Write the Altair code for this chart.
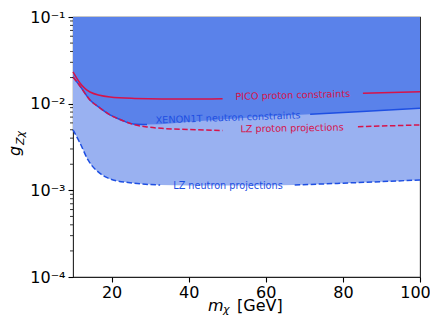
import altair as alt
import pandas as pd

# ---- data ----
pico_x = [10, 11.8, 14.4, 19.6, 26, 33, 40, 48.8, 60, 72, 85.2, 100]
pico_g = [0.0232, 0.0173, 0.01364, 0.01194, 0.01148, 0.01133, 0.01133, 0.01143, 0.0121, 0.0126, 0.01318, 0.01376]
pico_gap = (48.8, 85.2)

lzp_x = [10, 11.8, 14.4, 17, 19.6, 22.5, 25.6, 29.2, 33, 40, 48.8, 60, 72, 83.9, 100]
lzp_g = [0.0203, 0.016, 0.01104, 0.00891, 0.00741, 0.00649, 0.00576, 0.00539, 0.00519, 0.00504, 0.00489, 0.00504, 0.00525, 0.00543, 0.00568]
lzp_gap = (48.8, 83.9)

xen_x = [10, 11.8, 14.4, 17, 19.6, 22.5, 25.6, 29.2, 43, 56, 71.5, 85, 100]
xen_g = [0.0203, 0.016, 0.01104, 0.00891, 0.00741, 0.00649, 0.00583, 0.00575, 0.00632, 0.00693, 0.00755, 0.00813, 0.00885]
xen_gap = (29.2, 71.5)

lzn_x = [10, 11.8, 13.9, 17, 19, 21.3, 24.3, 27.4, 32.6, 40, 50, 60, 67.5, 80, 90, 100]
lzn_g = [0.00497, 0.00352, 0.00224, 0.00157, 0.00139, 0.00129, 0.00123, 0.00119, 0.00115, 0.00114, 0.00114, 0.00114, 0.00115, 0.00121, 0.00126, 0.00132]
lzn_gap = (32.6, 67.5)

labels = ["PICO proton constraints", "XENON1T neutron constraints", "LZ proton projections", "LZ neutron projections"]
label_x = [67.0, 50.2, 66.8, 50.2]
label_g = [0.01244, 0.00684, 0.00518, 0.001124]

x_ticks = [20, 40, 60, 80, 100]
y_domain = [1e-4, 1e-1]
y_decades = [1e-4, 1e-3, 1e-2, 1e-1]
y_minor_mult = [2, 3, 4, 5, 6, 7, 8, 9]

# ---- tables ----
def full(xs, gs):
    return pd.DataFrame({"x": xs, "g": gs})

def segs(xs, gs, gap):
    rows = []
    for x, g in zip(xs, gs):
        if x <= gap[0]:
            rows.append({"x": x, "g": g, "seg": 0})
        elif x >= gap[1]:
            rows.append({"x": x, "g": g, "seg": 1})
    return pd.DataFrame(rows)

y_minor = sorted(m * d for d in y_decades[:-1] for m in y_minor_mult)

FONT = "DejaVu Sans"
CRIMSON = "#d6134a"
BLUE = "#1e4fe2"
DARK = "#5a82ea"
LIGHT = "#99b1f1"

LG = "log(datum.value)/LN10"
ylab = (f"round({LG}) == -4 ? '10⁻⁴' : round({LG}) == -3 ? '10⁻³' : "
        f"round({LG}) == -2 ? '10⁻²' : round({LG}) == -1 ? '10⁻¹' : ''")

X = alt.X("x:Q", scale=alt.Scale(domain=[10, 100], nice=False, zero=False),
          axis=alt.Axis(values=x_ticks, title=None, tickSize=5, tickWidth=1.1, labelPadding=2,
                        labelFlush=False,
                        labelOffset={"condition": {"test": "datum.value == 100", "value": -5}, "value": 0}))
YSCALE = alt.Scale(type="log", domain=y_domain, nice=False)
Y = alt.Y("g:Q", scale=YSCALE, stack=None,
          axis=alt.Axis(values=y_decades, title=None, labelExpr=ylab, labelPadding=3,
                        labelOverlap=False, tickSize=5, tickWidth=1.1, labelFlush=False))
TOP = alt.Y2(datum=y_domain[1])

light = alt.Chart(full(lzn_x, lzn_g)).mark_area(color=LIGHT, opacity=1, interpolate="monotone").encode(
    x=X, y=Y, y2=TOP)
dark = alt.Chart(full(xen_x, xen_g)).mark_area(color=DARK, opacity=1, interpolate="monotone").encode(
    x=X, y=Y, y2=TOP)

# minor ticks of the log axis
minor = alt.Chart(pd.DataFrame({"g": y_minor})).mark_rule(color="black", strokeWidth=0.8).encode(
    y=Y, x=alt.value(-3), x2=alt.value(0))

def line(xs, gs, gap, color, dash=None):
    kw = dict(color=color, strokeWidth=1.5, interpolate="monotone")
    if dash:
        kw["strokeDash"] = dash
    return alt.Chart(segs(xs, gs, gap)).mark_line(**kw).encode(x=X, y=Y, detail="seg:N")

l_pico = line(pico_x, pico_g, pico_gap, CRIMSON)
l_lzp = line(lzp_x, lzp_g, lzp_gap, CRIMSON, [5.5, 2.5])
l_xen = line(xen_x, xen_g, xen_gap, BLUE)
l_lzn = line(lzn_x, lzn_g, lzn_gap, BLUE, [5.5, 2.5])

def label(i, color, angle):
    df = pd.DataFrame({"x": [label_x[i]], "g": [label_g[i]], "t": [labels[i]]})
    return alt.Chart(df).mark_text(font=FONT, fontSize=9.7, color=color, angle=angle,
                                   align="center", baseline="middle").encode(x=X, y=Y, text="t:N")

t1 = label(0, CRIMSON, 358.5)
t2 = label(1, BLUE, 358)
t3 = label(2, CRIMSON, 359)
t4 = label(3, BLUE, 0)

def title_text(s, x, y, size, style="normal", angle=0, align="left"):
    return alt.Chart(pd.DataFrame({"t": [s]})).mark_text(
        font=FONT, fontSize=size, fontStyle=style, angle=angle, align=align,
        baseline="alphabetic", color="black").encode(x=alt.value(x), y=alt.value(y), text="t:N")

xt1 = title_text("m", 135, 294, 16, "italic")
xt2 = title_text("χ", 150, 295.5, 11, "italic")
xt3 = title_text("[GeV]", 164, 294, 16)
yt1 = title_text("g", -53, 134, 16, "italic", 270, "center")
yt2 = title_text("Zχ", -49, 121, 11, "italic", 270, "center")

chart = alt.layer(light, dark, l_pico, l_xen, l_lzp, l_lzn, minor, t1, t2, t3, t4,
                  xt1, xt2, xt3, yt1, yt2).properties(
    width=347, height=260, autosize="none",
    padding={"left": 65, "top": 9, "right": 10, "bottom": 38},
).configure_axis(
    labelFont=FONT, labelFontSize=16, labelColor="black", tickColor="black",
    domain=False, grid=False,
).configure_view(stroke="#222", strokeWidth=1.1)

chart.save("out.html", embed_options={"renderer": "svg", "actions": False})
